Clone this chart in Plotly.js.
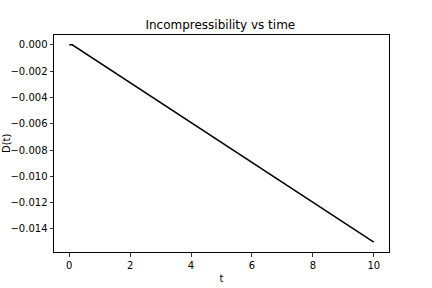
<!DOCTYPE html>
<html><head><meta charset="utf-8">
<script src="https://cdn.plot.ly/plotly-3.0.1.min.js"></script>
<style>html,body{margin:0;padding:0;background:#fff}</style>
</head><body>
<div id="chart" style="width:432px;height:288px"></div>
<script>
const tValues = [0, 0.1, 10];
const dValues = [0, 0, -0.015];
const xTicks = [0, 2, 4, 6, 8, 10];
const yTicks = [0, -0.002, -0.004, -0.006, -0.008, -0.010, -0.012, -0.014];

const axisCommon = {
  showgrid: false, zeroline: false, showline: true, mirror: true,
  linecolor: '#000', linewidth: 1, ticks: 'outside', ticklen: 3.5,
  tickwidth: 0.8, tickcolor: '#000',
  tickfont: {family: 'DejaVu Sans', size: 10, color: '#000'}
};
Plotly.newPlot('chart', [{
  x: tValues, y: dValues, mode: 'lines', type: 'scatter',
  line: {color: '#000', width: 1.5}
}], {
  width: 432, height: 288,
  paper_bgcolor: '#fff', plot_bgcolor: '#fff',
  margin: {l: 54, r: 43, t: 35, b: 36},
  showlegend: false,
  title: {text: 'Incompressibility vs time', font: {family: 'DejaVu Sans', size: 12, color: '#000'},
          x: 0.51, xanchor: 'center', y: 0.915, yanchor: 'middle'},
  xaxis: Object.assign({}, axisCommon, {
    range: [-0.5, 10.5], tickvals: xTicks, ticktext: xTicks.map(String),
    title: {text: 't', font: {family: 'DejaVu Sans', size: 10, color: '#000'}, standoff: 5}
  }),
  yaxis: Object.assign({}, axisCommon, {
    range: [-0.01575, 0.00075], tickvals: yTicks,
    ticktext: yTicks.map(v => (v < 0 ? '\u2212' : '') + Math.abs(v).toFixed(3))
  }),
  annotations: [{
    text: 'D(t)', xref: 'paper', yref: 'paper', x: -0.161, y: 0.5,
    xanchor: 'left', yanchor: 'middle', textangle: -90, showarrow: false,
    borderpad: 0, font: {family: 'DejaVu Sans', size: 10, color: '#000'}
  }]
}, {displayModeBar: false, staticPlot: true});
</script>
</body></html>
